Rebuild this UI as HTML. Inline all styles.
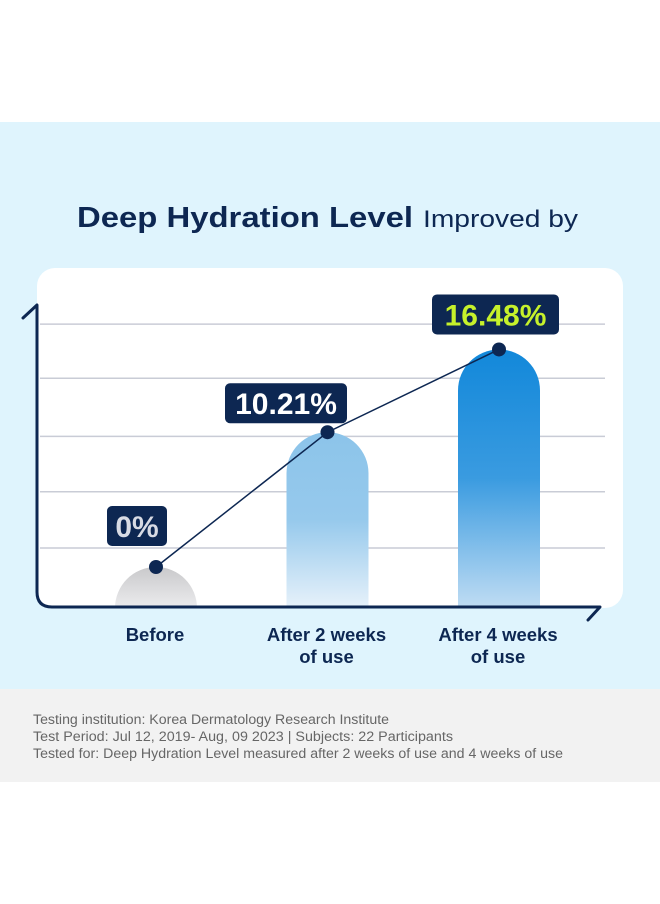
<!DOCTYPE html>
<html><head><meta charset="utf-8"><style>
html,body{margin:0;padding:0;background:#fff;width:660px;height:904px;overflow:hidden}
svg{display:block;font-family:"Liberation Sans",sans-serif}
</style></head><body>
<svg id="chart" width="660" height="904" viewBox="0 0 660 904">
<defs>
<linearGradient id="g0" x1="0" y1="0" x2="0" y2="1"><stop offset="0" stop-color="#c9c9cb"/><stop offset="1" stop-color="#ececee"/></linearGradient>
<linearGradient id="g1" x1="0" y1="0" x2="0" y2="1"><stop offset="0" stop-color="#8cc4ea"/><stop offset="0.5" stop-color="#96c9ec"/><stop offset="1" stop-color="#e6f1fa"/></linearGradient>
<linearGradient id="g2" x1="0" y1="0" x2="0" y2="1"><stop offset="0" stop-color="#1288da"/><stop offset="0.5" stop-color="#3a9be0"/><stop offset="1" stop-color="#bfdcf3"/></linearGradient>
</defs>
<rect x="0" y="122" width="660" height="568" fill="#dff4fd"/>
<rect x="0" y="689" width="660" height="93" fill="#f2f2f2"/>
<text x="77" y="227" font-size="28.5" font-weight="bold" fill="#0d2752" textLength="336" lengthAdjust="spacingAndGlyphs">Deep Hydration Level</text>
<text x="423" y="227" font-size="24" fill="#0d2752" textLength="155" lengthAdjust="spacingAndGlyphs">Improved by</text>
<rect x="37" y="268" width="586" height="340" rx="18" fill="#fff"/>
<g id="grid"></g>
<g id="bars"></g>
<path d="M23,318 L37,305 L37,592 Q37,607 52,607 L600,607 L588,620" fill="none" stroke="#0d2752" stroke-width="3" stroke-linejoin="round" stroke-linecap="round"/>
<g id="line"></g>
<g id="labels"></g>
<g id="xlabels" font-size="18.5" font-weight="bold" fill="#0d2752" text-anchor="middle"></g>
<g font-size="13.5" fill="#666">
<text x="33" y="724" textLength="356" lengthAdjust="spacingAndGlyphs">Testing institution: Korea Dermatology Research Institute</text>
<text x="33" y="741" textLength="420" lengthAdjust="spacingAndGlyphs">Test Period: Jul 12, 2019- Aug, 09 2023  |  Subjects: 22 Participants</text>
<text x="33" y="758" textLength="530" lengthAdjust="spacingAndGlyphs">Tested for: Deep Hydration Level measured after 2 weeks of use and 4 weeks of use</text>
</g>
</svg>
<script>
const categories = ["Before", "After 2 weeks|of use", "After 4 weeks|of use"];
const values = [0, 10.21, 16.48];
const valueLabels = ["0%", "10.21%", "16.48%"];
const gridValues = [1.44, 5.7, 9.9, 14.3, 18.4];

const NS = "http://www.w3.org/2000/svg";
const xCenter = i => 156 + i * 171.5;
const yScale = v => 567 - v * 13.2;
const barW = 82, baseY = 607;
function mk(tag, attrs, parent){const e=document.createElementNS(NS,tag);for(const k in attrs)e.setAttribute(k,attrs[k]);parent.appendChild(e);return e;}
const grid=document.getElementById('grid'), bars=document.getElementById('bars'), line=document.getElementById('line'), labels=document.getElementById('labels'), xl=document.getElementById('xlabels');
gridValues.forEach(v=>{
  const l=mk('line',{x1:40,x2:605,y1:yScale(v),y2:yScale(v),stroke:'#c9ccd6','stroke-width':1.5},grid);
  
  
});
const fills=['url(#g0)','url(#g1)','url(#g2)'];
values.forEach((v,i)=>{
  const cx=xCenter(i), top=yScale(v), r=barW/2, x0=cx-r;
  const d = `M${x0},${baseY} L${x0},${top+r} A${r},${r} 0 0 1 ${x0+barW},${top+r} L${x0+barW},${baseY} Z`;
  const p=mk('path',{d:d,fill:fills[i]},bars);
  
  
});
const pts=values.map((v,i)=>xCenter(i)+','+yScale(v)).join(' ');
const pl=mk('polyline',{points:pts,fill:'none',stroke:'#0d2752','stroke-width':1.5},line);


values.forEach((v,i)=>{
  const c=mk('circle',{cx:xCenter(i),cy:yScale(v),r:7,fill:'#0d2752'},line);
  
  
});
const boxW=[60,122,127], boxLeftOff=[-49,-102.5,-67], boxBottomOff=[-21,-9,-15];
values.forEach((v,i)=>{
  const w=boxW[i], left=xCenter(i)+boxLeftOff[i], y=yScale(v)+boxBottomOff[i]-40;
  const r=mk('rect',{x:left,y:y,width:w,height:40,rx:5,fill:'#0d2752'},labels);
  
  
  const t=mk('text',{x:left+w/2,y:y+31,'font-size':30,'font-weight':'bold','text-anchor':'middle',fill:i==2?'#c6f12b':(i==0?'#d8dbe4':'#fff')},labels);
  t.textContent=valueLabels[i];
  
  
});
categories.forEach((c,i)=>{
  c.split('|').forEach((s,j)=>{
    const t=mk('text',{x:xCenter(i)-1,y:641+j*22},xl);
    t.textContent=s;
    
    
  });
});
</script>
</body></html>
